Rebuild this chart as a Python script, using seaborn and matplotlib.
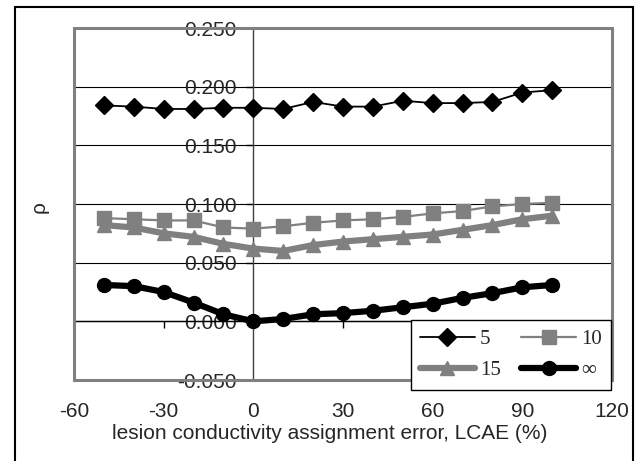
import matplotlib
matplotlib.use("Agg")
import matplotlib.pyplot as plt
from matplotlib.patches import Rectangle
import seaborn as sns
import pandas as pd

# ---- data ----
lcae = [-50, -40, -30, -20, -10, 0, 10, 20, 30, 40, 50, 60, 70, 80, 90, 100]
rho_5 = [0.184, 0.183, 0.181, 0.181, 0.182, 0.182, 0.181, 0.187, 0.183, 0.183,
         0.188, 0.186, 0.186, 0.187, 0.195, 0.197]
rho_10 = [0.088, 0.087, 0.086, 0.086, 0.080, 0.079, 0.081, 0.084, 0.086, 0.087,
          0.089, 0.092, 0.094, 0.098, 0.100, 0.101]
rho_15 = [0.082, 0.080, 0.075, 0.072, 0.066, 0.062, 0.060, 0.065, 0.068, 0.070,
          0.072, 0.074, 0.078, 0.082, 0.087, 0.090]
rho_inf = [0.031, 0.030, 0.025, 0.016, 0.006, 0.000, 0.002, 0.006, 0.007, 0.009,
           0.012, 0.015, 0.020, 0.024, 0.029, 0.031]
series_labels = ["5", "10", "15", "\u221e"]
xticks = [-60, -30, 0, 30, 60, 90, 120]
yticks = [-0.050, 0.000, 0.050, 0.100, 0.150, 0.200, 0.250]
xlabel = "lesion conductivity assignment error, LCAE (%)"
ylabel = "\u03c1"

sns.set_style("white")
plt.rcParams["font.family"] = ["Liberation Sans", "DejaVu Sans"]
plt.rcParams["axes.unicode_minus"] = False

fig = plt.figure(figsize=(6.42, 4.61), dpi=100)
ax = fig.add_axes([74 / 642, 1 - 380 / 461, 538 / 642, 352 / 461])

styles = [
    dict(marker="D", color="black", lw=1.3, ms=9.5),
    dict(marker="s", color="#808080", lw=1.6, ms=10.5),
    dict(marker="^", color="#808080", lw=4.5, ms=10),
    dict(marker="o", color="black", lw=4.5, ms=10),
]
all_series = [rho_5, rho_10, rho_15, rho_inf]
handles = []
for vals, lab, st in zip(all_series, series_labels, styles):
    df = pd.DataFrame({"x": lcae, "y": vals})
    sns.lineplot(data=df, x="x", y="y", ax=ax, marker=st["marker"], color=st["color"],
                 lw=st["lw"], ms=st["ms"], mec=st["color"], mfc=st["color"], mew=1,
                 label=lab, zorder=3, legend=False)
    handles.append(ax.lines[-1])

ax.set_xlim(-60, 120)
ax.set_ylim(-0.05, 0.25)

# horizontal gridlines
ax.yaxis.grid(True, color="black", lw=0.8)
ax.xaxis.grid(False)
ax.set_axisbelow(True)

# axes crossing at zero (Excel style)
ax.spines["left"].set_position(("data", 0))
ax.spines["bottom"].set_position(("data", 0))
ax.spines["left"].set_color("#404040")
ax.spines["left"].set_linewidth(1.0)
ax.spines["bottom"].set_color("black")
ax.spines["bottom"].set_linewidth(1.0)
ax.spines["top"].set_visible(False)
ax.spines["right"].set_visible(False)

ax.set_yticks(yticks)
ax.set_yticklabels([f"{v:.3f}" for v in yticks])
ax.tick_params(axis="y", direction="out", length=5, width=1, color="black",
               labelsize=15, pad=7, left=True)
ax.set_xticks(xticks)
ax.tick_params(axis="x", direction="out", length=5, width=1, color="black",
               labelbottom=False, bottom=True)
ax.set_xlabel("")
ax.set_ylabel(ylabel, fontsize=15)
ax.yaxis.set_label_coords(-0.048, 0.49)

sec = ax.secondary_xaxis("bottom")
sec.set_xticks(xticks)
sec.set_xticklabels([str(t) for t in xticks])
sec.tick_params(length=0, pad=16, labelsize=15)
sec.spines["bottom"].set_visible(False)
sec.set_xlabel(xlabel, fontsize=15, labelpad=2, x=0.476)

# plot-area border
ax.add_patch(Rectangle((0, 0), 1, 1, transform=ax.transAxes, fill=False,
                       ec="#808080", lw=2.2, clip_on=False, zorder=4))

# legend (row-wise order 5,10 / 15,inf)
order = [0, 2, 1, 3]
leg = ax.legend([handles[i] for i in order], [series_labels[i] for i in order],
                ncol=2, loc="lower right", bbox_to_anchor=(0.998, -0.028),
                borderaxespad=0, numpoints=1, handlelength=2.6, handletextpad=0.25,
                columnspacing=1.0, labelspacing=0.55, borderpad=0.45,
                frameon=True, fancybox=False, edgecolor="black", framealpha=1,
                prop={"family": ["Liberation Serif", "DejaVu Serif"], "size": 15})
leg.get_frame().set_linewidth(1.0)
leg.set_zorder(5)

# outer chart frame
fig.patches.append(Rectangle((15 / 642, -0.02), (633 - 15) / 642, 1 - 7 / 461 + 0.02,
                             transform=fig.transFigure, fill=False, ec="black", lw=1.5))

fig.savefig("out.png", dpi=100)
